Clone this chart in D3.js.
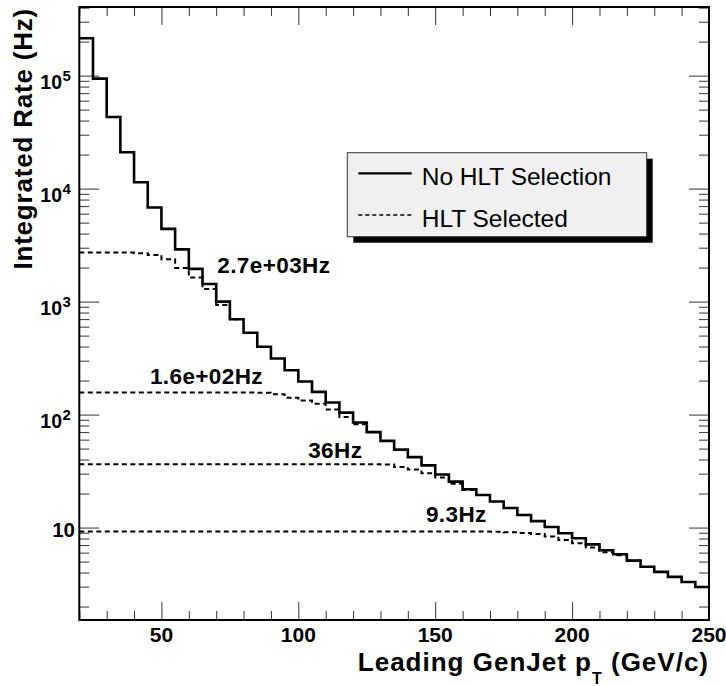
<!DOCTYPE html>
<html>
<head>
<meta charset="utf-8">
<script src="https://cdn.jsdelivr.net/npm/d3@7"></script>
<style>
body{margin:0;background:#fff;}
svg{display:block;font-family:"Liberation Sans",Arial,Helvetica,sans-serif;}
</style>
</head>
<body>
<svg width="726" height="686"></svg>
<script>
"use strict";

// bin edges in GeV (5 GeV bins)
var binEdges=[20,25,30,35,40,45,50,55,60,65,70,75,80,85,90,95,100,105,110,115,120,125,130,135,140,145,150,155,160,165,170,175,180,185,190,195,200,205,210,215,220,225,230,235,240,245,250];

// integrated rate, no HLT selection (Hz)
var noHlt=[214000,94000,43000,21000,11400,6800,4400,2900,1950,1430,1000,698,530,398,314,247,196,159,128,104,85,70,58.5,49,42,35.5,29.5,25.5,21.8,19.4,17.0,14.9,12.9,11.4,10.1,8.9,8.05,7.1,6.3,5.8,5.1,4.5,4.05,3.66,3.3,2.98];

// integrated rate after the HLT paths (Hz), until they join the curve above
var hltA=[2720,2720,2720,2715,2680,2590,2370,1980,1630,1290,935,698];
var hltB=[157,157,157,157,157,157,157,157,157,157,157,157,157,156,151,141,133,125,111,95,82,70];
var hltC=[36.4,36.4,36.4,36.4,36.4,36.4,36.4,36.4,36.4,36.4,36.4,36.4,36.4,36.4,36.4,36.4,36.4,36.4,36.4,36.4,36.4,36.3,36.1,34.4,32.6,30.2,27.7,24.4,21.5,19.4];
var hltD=[9.25,9.25,9.25,9.25,9.25,9.25,9.25,9.25,9.25,9.25,9.25,9.25,9.25,9.25,9.25,9.25,9.25,9.25,9.25,9.25,9.25,9.25,9.25,9.25,9.25,9.25,9.25,9.25,9.25,9.22,9.2,9.1,8.95,8.75,8.32,7.78,7.28,6.65,6.05,5.7,5.1];

// rate labels and where they sit (GeV, Hz)
var rateText=["2.7e+03Hz","1.6e+02Hz","36Hz","9.3Hz"];
var rateTextX=[70.4,45.8,103.6,146.6];
var rateTextY=[1780,186,41.1,11.3];

var xTickLabels=[50,100,150,200,250];
var yMajor=[10,100,1000,10000,100000];
var yExp=[1,2,3,4,5];
var legendLabels=["No HLT Selection","HLT Selected"];

function dataViz(){

	var svg=d3.select("svg");
	var left=79.3, right=709, top=7, bottom=620;

	var xScale=d3.scaleLinear().domain([20,250]).range([left,right]);
	var yScale=d3.scaleLog().domain([1.52,4.05e5]).range([bottom,top]);

	svg.append("clipPath").attr("id","frameClip")
		.append("rect").attr("x",left).attr("y",top).attr("width",right-left).attr("height",bottom-top);

	var yMinor=yScale.ticks().filter(function(v){return yMajor.indexOf(v)<0;});
	var xMinor=xScale.ticks(23).filter(function(v){return xTickLabels.indexOf(v)<0;});

	function tickGroup(axis,tx,ty){
		svg.append("g")
			.attr("transform","translate("+tx+","+ty+")")
			.attr("color","#333")
			.call(axis)
			.call(function(g){g.select(".domain").remove();})
			.selectAll("line").attr("stroke-width",1);
	}

	tickGroup(d3.axisRight(yScale).tickValues(yMajor).tickSize(20).tickFormat(""),left,0);
	tickGroup(d3.axisRight(yScale).tickValues(yMinor).tickSize(10).tickFormat(""),left,0);
	tickGroup(d3.axisLeft(yScale).tickValues(yMajor).tickSize(20).tickFormat(""),right,0);
	tickGroup(d3.axisLeft(yScale).tickValues(yMinor).tickSize(10).tickFormat(""),right,0);
	tickGroup(d3.axisTop(xScale).tickValues(xTickLabels).tickSize(18).tickFormat(""),0,bottom);
	tickGroup(d3.axisTop(xScale).tickValues(xMinor).tickSize(9).tickFormat(""),0,bottom);
	tickGroup(d3.axisBottom(xScale).tickValues(xTickLabels).tickSize(18).tickFormat(""),0,top);
	tickGroup(d3.axisBottom(xScale).tickValues(xMinor).tickSize(9).tickFormat(""),0,top);

	// histograms
	var stepLine=d3.line()
		.x(function(d){return xScale(d[0]);})
		.y(function(d){return yScale(d[1]);})
		.curve(d3.curveStepAfter);

	function histPoints(vals){
		var pts=vals.map(function(v,i){return [binEdges[i],v];});
		pts.push([binEdges[vals.length],vals[vals.length-1]]);
		return pts;
	}

	var plot=svg.append("g").attr("clip-path","url(#frameClip)");

	[hltA,hltB,hltC,hltD].forEach(function(vals){
		plot.append("path")
			.attr("d",stepLine(histPoints(vals)))
			.attr("fill","none")
			.attr("stroke","black")
			.attr("stroke-width",2)
			.attr("stroke-dasharray","5,3.5");
	});

	plot.append("path")
		.attr("d",stepLine(histPoints(noHlt)))
		.attr("fill","none")
		.attr("stroke","black")
		.attr("stroke-width",2.6);

	// frame
	svg.append("rect")
		.attr("x",left).attr("y",top)
		.attr("width",right-left).attr("height",bottom-top)
		.attr("fill","none").attr("stroke","black").attr("stroke-width",2);

	// rate labels
	svg.selectAll("text.rate")
		.data(rateText)
		.enter()
		.append("text")
		.attr("class","rate")
		.attr("x",function(d,i){return xScale(rateTextX[i]);})
		.attr("y",function(d,i){return yScale(rateTextY[i]);})
		.attr("font-size",22.5).attr("font-weight","bold")
		.attr("letter-spacing",0.4)
		.text(function(d){return d;});

	// x tick labels
	svg.selectAll("text.xlab")
		.data(xTickLabels)
		.enter()
		.append("text")
		.attr("class","xlab")
		.attr("x",function(d){return xScale(d);})
		.attr("y",642)
		.attr("text-anchor","middle")
		.attr("font-size",21).attr("font-weight","bold")
		.text(function(d){return d;});

	// y tick labels
	yMajor.forEach(function(v,i){
		var ty=yScale(v);
		if(yExp[i]===1){
			svg.append("text").attr("x",75).attr("y",ty+9.6)
				.attr("text-anchor","end").attr("font-size",20.5).attr("font-weight","bold")
				.text("10");
		}else{
			svg.append("text").attr("x",62).attr("y",ty+13.3)
				.attr("text-anchor","end").attr("font-size",19.5).attr("font-weight","bold")
				.text("10");
			svg.append("text").attr("x",62.5).attr("y",ty+5)
				.attr("font-size",15).attr("font-weight","bold")
				.text(yExp[i]);
		}
	});

	// axis titles
	var xTitle=svg.append("text")
		.attr("x",right).attr("y",670.5)
		.attr("text-anchor","end")
		.attr("font-size",26).attr("font-weight","bold")
		.attr("letter-spacing",1.0);
	xTitle.append("tspan").text("Leading GenJet p");
	xTitle.append("tspan").attr("dy",13.5).attr("font-size",16).text("T");
	xTitle.append("tspan").attr("dy",-13.5).text("\u00a0(GeV/c)");

	svg.append("text")
		.attr("transform","translate(31.7,8) rotate(-90)")
		.attr("text-anchor","end")
		.attr("font-size",26).attr("font-weight","bold")
		.attr("letter-spacing",0.8)
		.text("Integrated Rate (Hz)");

	// legend
	var lx=347.3, ly=152.7, lw=299.4, lh=84;
	svg.append("rect").attr("x",lx+6).attr("y",ly+6).attr("width",lw).attr("height",lh).attr("fill","black");
	svg.append("rect").attr("x",lx).attr("y",ly).attr("width",lw).attr("height",lh)
		.attr("fill","#f0f0f0").attr("stroke","#333").attr("stroke-width",1);

	var legendRows=[173.3,215];
	legendLabels.forEach(function(lab,i){
		svg.append("line")
			.attr("x1",358.3).attr("x2",411.7)
			.attr("y1",legendRows[i]).attr("y2",legendRows[i])
			.attr("stroke","black")
			.attr("stroke-width",i===0?2.2:1.4)
			.attr("stroke-dasharray",i===0?null:"4,3");
		svg.append("text")
			.attr("x",421.7).attr("y",legendRows[i]+11.8)
			.attr("font-size",24.5)
			.text(lab);
	});
}

dataViz();
</script>
</body>
</html>
